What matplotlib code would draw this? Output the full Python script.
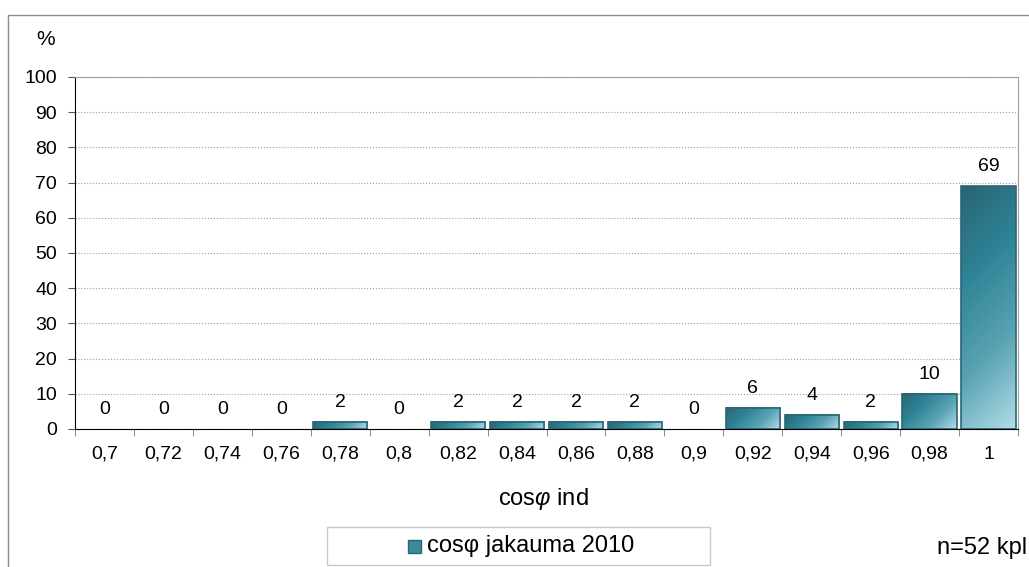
import numpy as np
import matplotlib.pyplot as plt
from matplotlib.colors import LinearSegmentedColormap
from matplotlib.patches import Rectangle

plt.rcParams['font.family'] = ['Liberation Sans', 'DejaVu Sans']
plt.rcParams['mathtext.fontset'] = 'custom'
plt.rcParams['mathtext.rm'] = 'Liberation Sans'
plt.rcParams['mathtext.it'] = 'Liberation Sans:italic'

# cos phi -jakauma, prosenttia mittauksista
luokat = ['0,7', '0,72', '0,74', '0,76', '0,78', '0,8', '0,82', '0,84',
          '0,86', '0,88', '0,9', '0,92', '0,94', '0,96', '0,98', '1']
osuus = [0, 0, 0, 0, 2, 0, 2, 2, 2, 2, 0, 6, 4, 2, 10, 69]
sarja = 'cosφ jakauma 2010'

cmap = LinearSegmentedColormap.from_list(
    'teal', ['#2a6474', '#2e8496', '#5aa3b3', '#b3dde8'])

fig = plt.figure(figsize=(10.29, 5.67), dpi=100)
ax = fig.add_axes([0.0729, 0.2434, 0.9164, 0.6208])

x = np.arange(len(luokat))
w = 0.92
ax.set_xlim(-0.5, len(luokat) - 0.5)
ax.set_ylim(0, 100)

# pixel scale of the axes, so the gradient runs diagonally in screen space
bbox = ax.get_window_extent()
px_x = bbox.width / len(luokat)
px_y = bbox.height / 100

for xi, v in zip(x, osuus):
    if v > 0:
        W = w * px_x
        H = v * px_y
        gx, gy = np.meshgrid(np.linspace(0, W, 80), np.linspace(0, H, 200))
        grad = (gx + gy) / (W + H)
        ax.imshow(grad, cmap=cmap, extent=(xi - w / 2, xi + w / 2, 0, v),
                  aspect='auto', origin='upper', zorder=2, interpolation='bilinear')
        ax.add_patch(Rectangle((xi - w / 2, 0), w, v, fill=False,
                               edgecolor='#2b6676', lw=1.2, zorder=3))
    ax.annotate(str(v), (xi, v), xytext=(0, 8), textcoords='offset points',
                ha='center', va='bottom', fontsize=14)

ax.set_yticks(range(0, 101, 10))
ax.tick_params(axis='y', labelsize=14, length=5, pad=8, color='#555555')
ax.set_xticks(x)
ax.set_xticklabels(luokat, fontsize=14)
ax.tick_params(axis='x', length=0, pad=12)
ax.set_xticks(np.arange(-0.5, len(luokat), 1), minor=True)
ax.tick_params(axis='x', which='minor', length=5, color='#777777')
ax.grid(axis='y', color='#a0a0a0', linestyle=':', linewidth=0.8, zorder=0)
ax.set_axisbelow(True)
ax.spines['left'].set_color('black')
ax.spines['bottom'].set_color('black')
ax.spines['bottom'].set_zorder(4)
ax.spines['top'].set_color('#a0a0a0')
ax.spines['right'].set_color('#a0a0a0')

fig.text(0.0442, 0.931, '%', fontsize=15, ha='center', va='center')
fig.text(0.5277, 0.12, r'cos$\varphi$ ind', fontsize=17, ha='center', va='center')
fig.text(0.998, 0.0335, 'n=52 kpl', fontsize=17, ha='right', va='center')

# outer chart frame
fig.patches.append(Rectangle((0.0078, -0.1), 1.2, 1.0736, transform=fig.transFigure,
                             fill=False, edgecolor='#8c8c8c', lw=1))

# legend box
fig.patches.append(Rectangle((0.3178, 0.0035), 0.3722, 0.067, transform=fig.transFigure,
                             fill=False, edgecolor='#c8c8c8', lw=1))
fig.patches.append(Rectangle((0.3965, 0.0247), 0.0126, 0.0229, transform=fig.transFigure,
                             facecolor='#3a8a9c', edgecolor='#2b6676', lw=1))
fig.text(0.415, 0.037, sarja, fontsize=17, ha='left', va='center')

fig.savefig('out.png', dpi=100)
